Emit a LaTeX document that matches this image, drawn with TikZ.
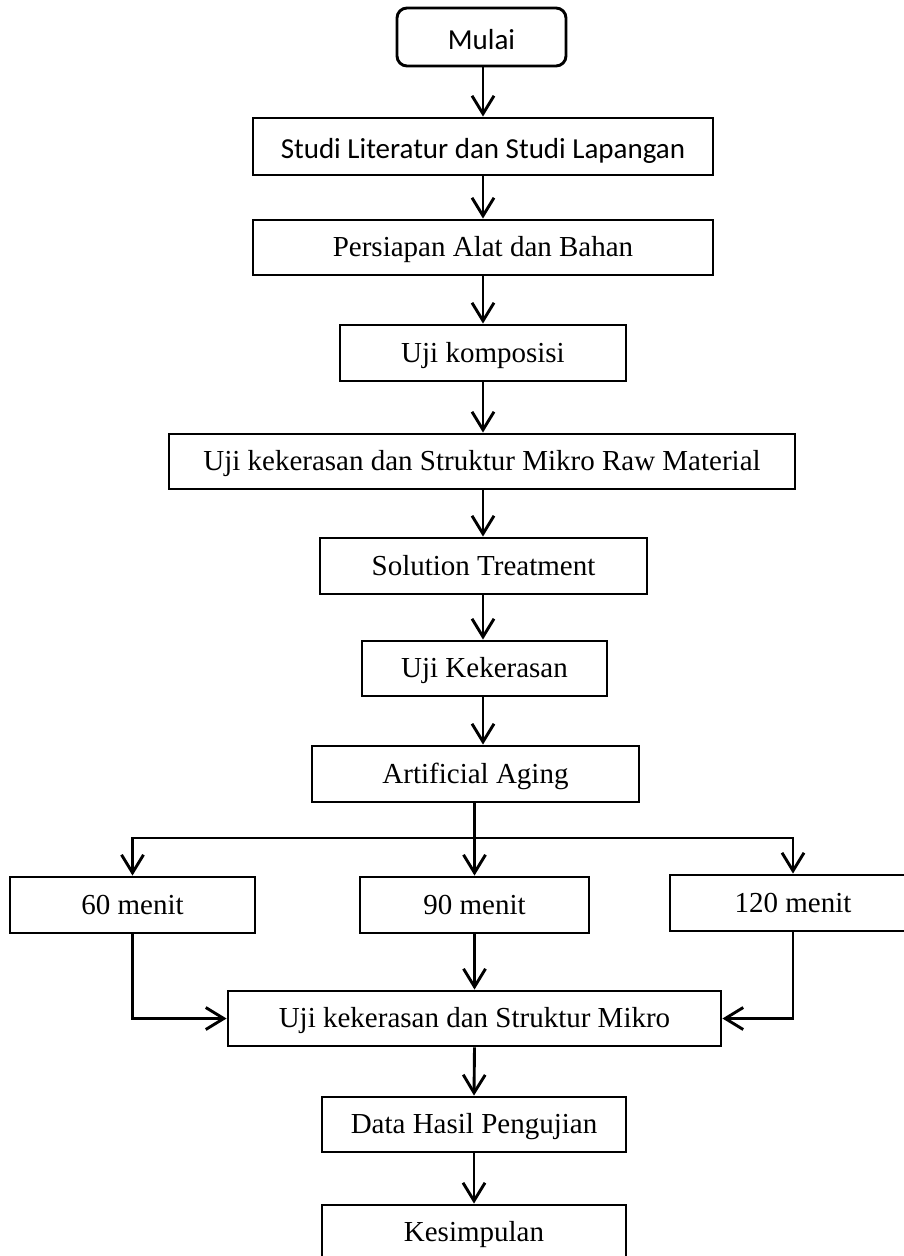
\documentclass[tikz,border=0pt]{standalone}
\usepackage{fontspec}
\setmainfont{Liberation Serif}
\newfontfamily\calib{Carlito}
\usetikzlibrary{arrows.meta}
\begin{document}
\begin{tikzpicture}[x=1pt,y=-1pt,
  box/.style={draw=black,line width=2.9pt,fill=white,inner sep=0pt,align=center,
    text height=18pt,text depth=0pt,font=\fontsize{29}{34}\selectfont},
  sbox/.style={box,text height=24pt,font=\calib\fontsize{29}{34}\selectfont},
  arr/.style={line width=2.9pt,-{Straight Barb[length=18pt,width=22pt]}}]
\clip (0,0) rectangle (904,1256);
\fill[white] (0,0) rectangle (904,1256);
\node[sbox,rounded corners=10pt,minimum width=169pt,minimum height=58pt] (mulai) at (481.5,37) {Mulai};
\node[sbox,minimum width=460pt,minimum height=57pt] (studi) at (483,146.5) {Studi Literatur dan Studi Lapangan};
\node[box,minimum width=460pt,minimum height=55pt] (persiapan) at (483,247.5) {Persiapan Alat dan Bahan};
\node[box,minimum width=286pt,minimum height=56pt] (komp) at (483,353) {Uji komposisi};
\node[box,minimum width=626pt,minimum height=55pt] (raw) at (482,461.5) {Uji kekerasan dan Struktur Mikro Raw Material};
\node[box,minimum width=327pt,minimum height=56pt] (sol) at (483.5,566) {Solution Treatment};
\node[box,minimum width=245pt,minimum height=55pt] (ujikek) at (484.5,668.5) {Uji Kekerasan};
\node[box,minimum width=327pt,minimum height=56pt] (art) at (475.5,774) {Artificial Aging};
\node[box,minimum width=245pt,minimum height=56pt] (m60) at (132.5,905) {60 menit};
\node[box,minimum width=229pt,minimum height=56pt] (m90) at (474.5,905) {90 menit};
\node[box,minimum width=246pt,minimum height=56pt] (m120) at (793,903) {120 menit};
\node[box,minimum width=493pt,minimum height=55pt] (ujism) at (474.5,1018.5) {Uji kekerasan dan Struktur Mikro};
\node[box,minimum width=304pt,minimum height=55pt] (data) at (474,1124.5) {Data Hasil Pengujian};
\node[box,minimum width=304pt,minimum height=55pt] (kes) at (474,1232.5) {Kesimpulan};
\coordinate (ax) at (483,0);
\coordinate (br) at (474.5,838);
\draw[arr] (mulai.south -| ax) -- (studi.north -| ax);
\draw[arr] (studi.south -| ax) -- (persiapan.north -| ax);
\draw[arr] (persiapan.south -| ax) -- (komp.north -| ax);
\draw[arr] (komp.south -| ax) -- (raw.north -| ax);
\draw[arr] (raw.south -| ax) -- (sol.north -| ax);
\draw[arr] (sol.south -| ax) -- (ujikek.north -| ax);
\draw[arr] (ujikek.south -| ax) -- (art.north -| ax);
\draw[arr] (art.south -| br) -- (m90.north);
\draw[arr] (br) -| (m60.north);
\draw[arr] (br) -| (m120.north);
\draw[arr] (m60.south) |- (ujism.west);
\draw[arr] (m120.south) |- (ujism.east);
\draw[arr] (m90.south) -- (ujism.north);
\draw[arr] (ujism.south) -- (data.north);
\draw[arr] (data.south) -- (kes.north);
\end{tikzpicture}
\end{document}
